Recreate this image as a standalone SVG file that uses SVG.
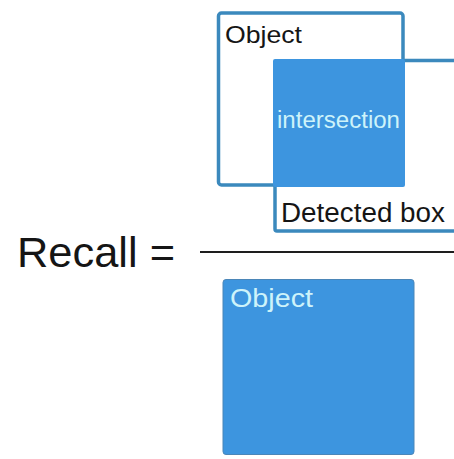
<svg xmlns="http://www.w3.org/2000/svg" width="454" height="459" viewBox="0 0 454 459">
  <style>
    .outline { fill: #ffffff; stroke: #3b89bd; stroke-width: 3.5; }
    .solid { fill: #3d95df; }
    .dark { font-family: "Liberation Sans", Arial, sans-serif; fill: #151515; }
    .light { font-family: "Liberation Sans", Arial, sans-serif; fill: #cdf3fa; }
  </style>
  <rect width="454" height="459" fill="#ffffff"/>

  <!-- detected box: runs off the right edge -->
  <g id="detected-box">
    <rect class="outline" x="275" y="60.5" width="200" height="170.5" rx="2"/>
    <text class="dark" x="281" y="222" font-size="27" textLength="164" lengthAdjust="spacingAndGlyphs">Detected box</text>
  </g>

  <!-- ground-truth object box -->
  <g id="object-box">
    <rect class="outline" x="218.5" y="13" width="184.5" height="172" rx="3"/>
    <text class="dark" x="225" y="43" font-size="24" textLength="77" lengthAdjust="spacingAndGlyphs">Object</text>
  </g>

  <!-- overlap of the two boxes -->
  <g id="intersection">
    <rect class="solid" x="273" y="59" width="132" height="128" rx="2"/>
    <text class="light" x="277" y="128" font-size="23" textLength="123" lengthAdjust="spacingAndGlyphs">intersection</text>
  </g>

  <!-- formula label and fraction bar -->
  <g id="recall-label">
    <text class="dark" x="17" y="267" font-size="42" textLength="158" lengthAdjust="spacingAndGlyphs">Recall =</text>
  </g>
  <g id="connectors">
    <line x1="200" y1="252" x2="454" y2="252" stroke="#1e1e1e" stroke-width="2"/>
  </g>

  <!-- denominator: object area -->
  <g id="object-area">
    <rect class="solid" x="223" y="279.5" width="191" height="175" rx="3" stroke="#4b86b8" stroke-width="1"/>
    <text class="light" x="230" y="307" font-size="25" textLength="83" lengthAdjust="spacingAndGlyphs">Object</text>
  </g>
</svg>
